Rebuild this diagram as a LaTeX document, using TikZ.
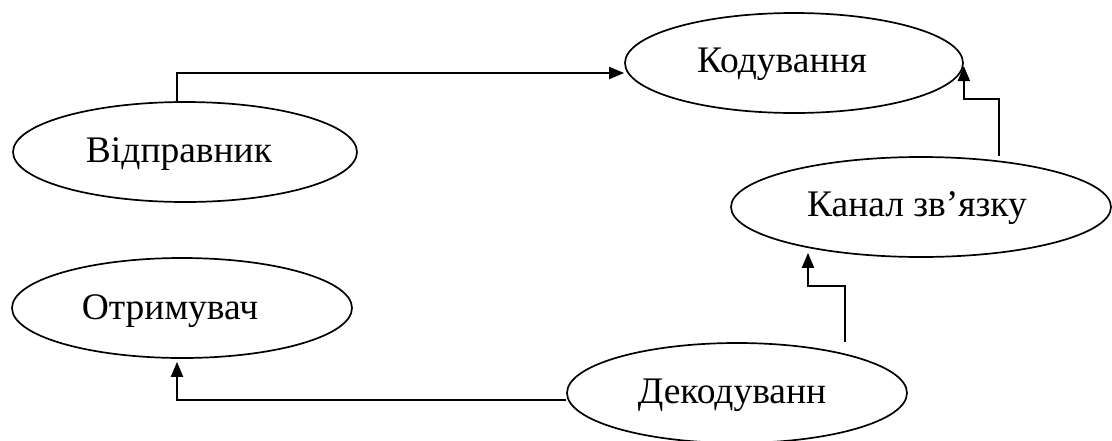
\documentclass[tikz,border=0pt]{standalone}
\usepackage{fontspec}
\setmainfont{Liberation Serif}
\usetikzlibrary{shapes.geometric,arrows.meta}
\begin{document}
\begin{tikzpicture}[x=1pt,y=-1pt,
  stage/.style={ellipse, draw, line width=1.7pt, minimum height=100pt, inner sep=0pt},
  txt/.style={font=\fontsize{37.5}{44}\selectfont},
  flow/.style={line width=1.9pt, -{Triangle[length=15pt,width=12pt]}}]
\useasboundingbox (0,0) rectangle (1112,440);

\node[stage, minimum width=338pt, label={[txt, xshift=-12pt, yshift=-1pt]center:Кодування}] (kod) at (794,63) {};
\node[stage, minimum width=344pt, label={[txt, xshift=-6pt, yshift=-2pt]center:Відправник}] (vid) at (185,152) {};
\node[stage, minimum width=380pt, label={[txt, xshift=-4pt, yshift=-1pt]center:Канал зв’язку}] (kan) at (921,207) {};
\node[stage, minimum width=340pt, label={[txt, xshift=-12pt, yshift=-3pt]center:Отримувач}] (otr) at (182,308) {};
\node[stage, minimum width=340pt, label={[txt, xshift=-5pt, yshift=-2pt]center:Декодуванн}] (dek) at (737,393) {};

% sender -> encoding
\draw[flow] ([xshift=-8pt]vid.north) |- ([yshift=-10pt]kod.west);
% channel -> encoding
\draw[flow] ([xshift=78pt]kan.north) -- ++(0,-57) -| ([yshift=-3pt]kod.east);
% decoding -> channel
\draw[flow] ([xshift=108pt]dek.north) -- ++(0,-56) -| ([xshift=-113pt,yshift=5pt]kan.south);
% decoding -> receiver
\draw[flow] ([yshift=-7pt]dek.west) -| ([xshift=-5pt,yshift=-3pt]otr.south);
\end{tikzpicture}
\end{document}
